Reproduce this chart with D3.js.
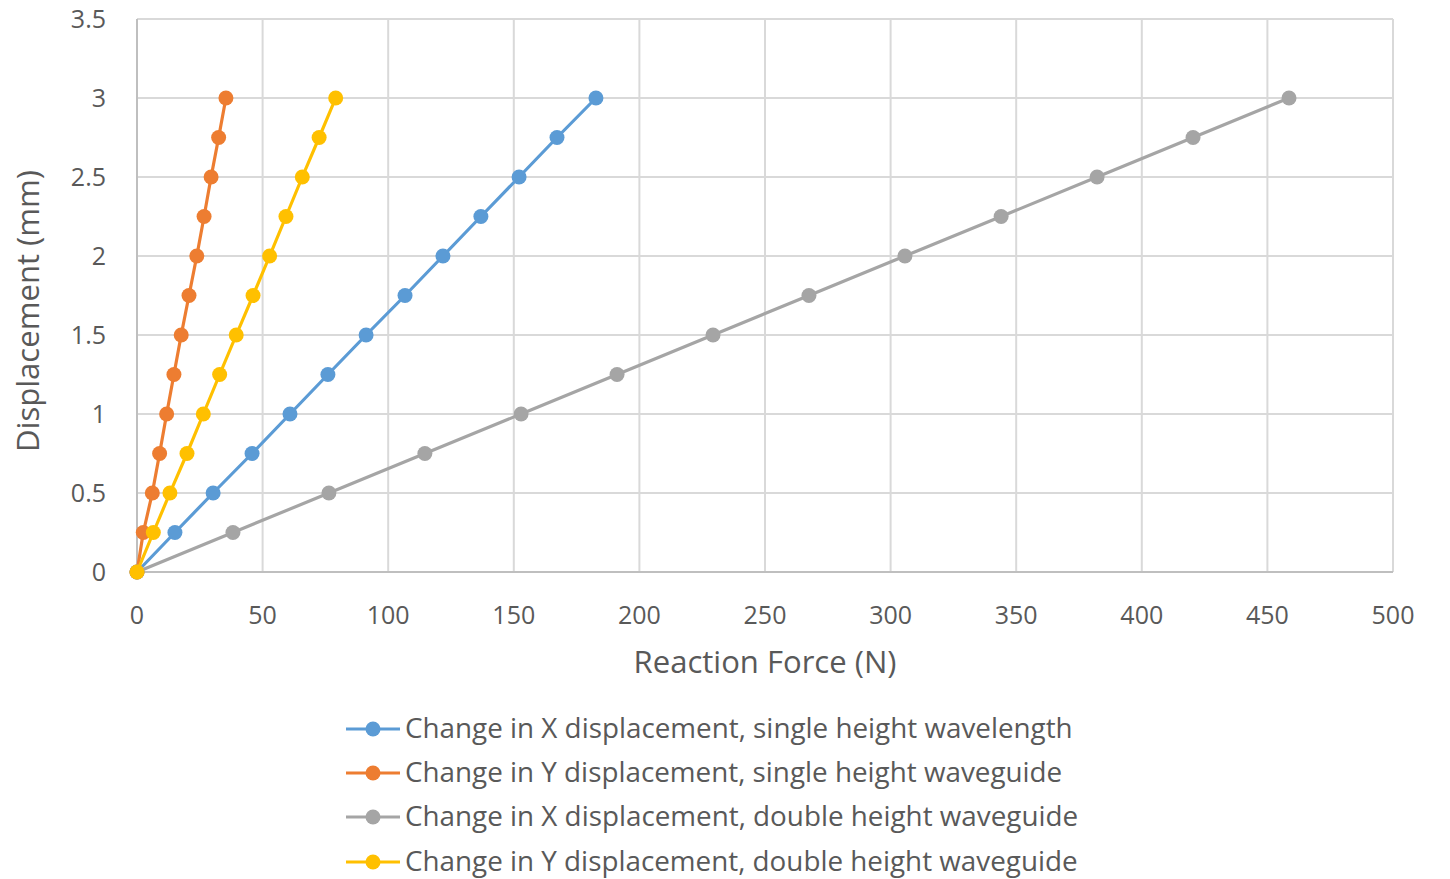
<!DOCTYPE html>
<html><head><meta charset="utf-8">
<script src="https://cdn.jsdelivr.net/npm/d3@7"></script>
<style>body{margin:0;background:#fff}svg{display:block}</style>
</head><body>
<svg id="c" width="1450" height="879"></svg>
<script>
const displacement = [0,0.25,0.5,0.75,1,1.25,1.5,1.75,2,2.25,2.5,2.75,3];
const xSingle = [0,15.1,30.3,45.8,60.9,76.0,91.2,106.7,121.8,136.9,152.1,167.2,182.7];
const ySingle = [0,2.5,6.1,9.0,11.8,14.7,17.6,20.7,23.8,26.7,29.5,32.5,35.4];
const xDouble = [0,38.2,76.4,114.6,152.9,191.1,229.3,267.5,305.7,344.0,382.2,420.4,458.6];
const yDouble = [0,6.5,13.1,19.9,26.4,32.9,39.5,46.2,52.8,59.3,65.8,72.5,79.1];
const seriesNames = [
  "Change in X displacement, single height wavelength",
  "Change in Y displacement, single height waveguide",
  "Change in X displacement, double height waveguide",
  "Change in Y displacement, double height waveguide"
];
const seriesForces = [xSingle, ySingle, xDouble, yDouble];
const colors = ["#5b9bd5","#ed7d31","#a5a5a5","#ffc000"];
const xTicks = [0,50,100,150,200,250,300,350,400,450,500];
const yTicks = [0,0.5,1,1.5,2,2.5,3,3.5];
const xTitle = "Reaction Force (N)";
const yTitle = "Displacement (mm)";

const font = "'Open Sans', sans-serif";
const txt = "#595959";
const svg = d3.select("#c");
const x = d3.scaleLinear().domain([0,500]).range([137,1393]);
const y = d3.scaleLinear().domain([0,3.5]).range([572,19]);

// gridlines
svg.append("g").selectAll("line").data(yTicks.slice(1)).join("line")
  .attr("x1",x(0)).attr("x2",x(500)).attr("y1",d=>y(d)).attr("y2",d=>y(d))
  .attr("stroke","#d9d9d9").attr("stroke-width",2);
svg.append("g").selectAll("line").data(xTicks.slice(1)).join("line")
  .attr("y1",y(0)).attr("y2",y(3.5)).attr("x1",d=>x(d)).attr("x2",d=>x(d))
  .attr("stroke","#d9d9d9").attr("stroke-width",2);
// axes lines
svg.append("line").attr("x1",x(0)).attr("x2",x(500)).attr("y1",y(0)).attr("y2",y(0)).attr("stroke","#bfbfbf").attr("stroke-width",2);
svg.append("line").attr("x1",x(0)).attr("x2",x(0)).attr("y1",y(0)).attr("y2",y(3.5)).attr("stroke","#bfbfbf").attr("stroke-width",2);

// tick labels
svg.append("g").selectAll("text").data(xTicks).join("text")
  .attr("x",d=>x(d)).attr("y",624).attr("text-anchor","middle")
  .attr("font-family",font).attr("font-size",25).attr("fill",txt).text(d=>d);
svg.append("g").selectAll("text").data(yTicks).join("text")
  .attr("x",106).attr("y",d=>y(d)+9).attr("text-anchor","end")
  .attr("font-family",font).attr("font-size",25).attr("fill",txt).text(d=>d);

function fit(sel, target){
  const w = sel.node().getComputedTextLength();
  const fs = parseFloat(sel.attr("font-size"));
  sel.attr("font-size", fs*target/w);
}
const xt = svg.append("text").attr("x",765).attr("y",673).attr("text-anchor","middle")
  .attr("font-family",font).attr("font-size",28).attr("fill",txt).text(xTitle);
fit(xt,263);
const yt = svg.append("text").attr("transform","translate(39,311) rotate(-90)").attr("text-anchor","middle")
  .attr("font-family",font).attr("font-size",28).attr("fill",txt).text(yTitle);
fit(yt,282);

const line = d3.line().x(d=>x(d[0])).y(d=>y(d[1]));
const order = [0,1,2,3];
order.forEach(i=>{
  const pts = seriesForces[i].map((f,j)=>[f,displacement[j]]);
  const g = svg.append("g");
  g.append("path").attr("d",line(pts)).attr("fill","none").attr("stroke",colors[i]).attr("stroke-width",3.2).attr("stroke-linejoin","round");
  g.selectAll("circle").data(pts).join("circle").attr("cx",d=>x(d[0])).attr("cy",d=>y(d[1])).attr("r",7.5).attr("fill",colors[i]);
});

// legend
const legY = [729,773,817,862];
const lg = svg.append("g");
seriesNames.forEach((n,i)=>{
  lg.append("line").attr("x1",346).attr("x2",400).attr("y1",legY[i]).attr("y2",legY[i]).attr("stroke",colors[i]).attr("stroke-width",3.2);
  lg.append("circle").attr("cx",373).attr("cy",legY[i]).attr("r",7.5).attr("fill",colors[i]);
  const t = lg.append("text").attr("x",405).attr("y",legY[i]+9).attr("font-family",font).attr("font-size",26).attr("fill",txt).text(n);
  if(i===0) fit(t,668);
});
const fs0 = lg.select("text").attr("font-size");
lg.selectAll("text").attr("font-size",fs0);
</script>
</body></html>
